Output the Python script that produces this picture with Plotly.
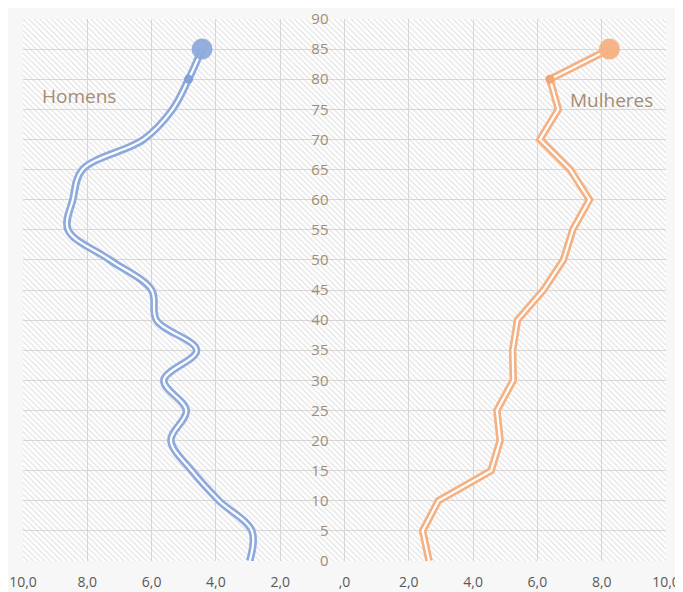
import plotly.graph_objects as go

ages = [0, 5, 10, 15, 20, 25, 30, 35, 40, 45, 50, 55, 60, 65, 70, 75, 80, 85]
homens = [2.95, 2.88, 3.9, 4.75, 5.4, 4.92, 5.62, 4.6, 5.85, 6.0, 7.3, 8.6, 8.45, 8.15, 6.25, 5.35, 4.85, 4.43]
mulheres = [2.63, 2.43, 2.92, 4.56, 4.84, 4.74, 5.25, 5.23, 5.38, 6.19, 6.81, 7.1, 7.62, 7.02, 6.08, 6.65, 6.39, 8.24]
x_tickvals = [-10, -8, -6, -4, -2, 0, 2, 4, 6, 8, 10]
x_ticktext = ["10,0", "8,0", "6,0", "4,0", "2,0", ",0", "2,0", "4,0", "6,0", "8,0", "10,0"]
y_tickvals = list(range(0, 95, 5))

XR = [-10, 10]
YR = [0, 90]
BLUE = "#8eaadc"
ORANGE = "#f4b183"
TXT = "#a38d74"

fig = go.Figure()

# hatched plot background
fig.add_trace(go.Scatter(
    x=[XR[0], XR[1], XR[1], XR[0], XR[0]], y=[YR[0], YR[0], YR[1], YR[1], YR[0]],
    mode="lines", line=dict(width=0), fill="toself", fillcolor="rgba(0,0,0,0)",
    fillpattern=dict(shape="\\", fgcolor="#c8c8c8", size=4, solidity=0.32, fillmode="overlay"),
    hoverinfo="skip", showlegend=False))

hx = [-v for v in homens]
# men: smoothed double line
fig.add_trace(go.Scatter(x=hx, y=ages, mode="lines",
                         line=dict(color=BLUE, width=7.5, shape="spline", smoothing=1.0),
                         showlegend=False, hoverinfo="skip"))
fig.add_trace(go.Scatter(x=hx, y=ages, mode="lines",
                         line=dict(color="white", width=2.2, shape="spline", smoothing=1.0),
                         showlegend=False, hoverinfo="skip"))
# women: straight double line
fig.add_trace(go.Scatter(x=mulheres, y=ages, mode="lines",
                         line=dict(color=ORANGE, width=7.5),
                         showlegend=False, hoverinfo="skip"))
fig.add_trace(go.Scatter(x=mulheres, y=ages, mode="lines",
                         line=dict(color="white", width=2.2),
                         showlegend=False, hoverinfo="skip"))

# markers
fig.add_trace(go.Scatter(x=[hx[-2]], y=[ages[-2]], mode="markers",
                         marker=dict(color="#7c9bd6", size=9, opacity=0.9),
                         showlegend=False, hoverinfo="skip"))
fig.add_trace(go.Scatter(x=[hx[-1]], y=[ages[-1]], mode="markers",
                         marker=dict(color=BLUE, size=21, opacity=0.95),
                         showlegend=False, hoverinfo="skip"))
fig.add_trace(go.Scatter(x=[mulheres[-2]], y=[ages[-2]], mode="markers",
                         marker=dict(color="#f0a36e", size=9, opacity=0.95),
                         showlegend=False, hoverinfo="skip"))
fig.add_trace(go.Scatter(x=[mulheres[-1]], y=[ages[-1]], mode="markers",
                         marker=dict(color=ORANGE, size=21, opacity=0.95),
                         showlegend=False, hoverinfo="skip"))

fig.add_annotation(x=-8.25, y=77.2, text="Homens", showarrow=False,
                   font=dict(family="Open Sans", size=19, color=TXT))
fig.add_annotation(x=8.3, y=76.5, text="Mulheres", showarrow=False,
                   font=dict(family="Open Sans", size=19, color=TXT))

# page body has an 8px default margin, so the figure is sized and offset to compensate
fig.update_layout(
    width=675, height=584, autosize=False,
    margin=dict(l=15, r=17, t=11, b=31),
    paper_bgcolor="#f7f7f7", plot_bgcolor="white",
    font=dict(family="Open Sans"),
    xaxis=dict(range=XR, tickvals=x_tickvals, ticktext=x_ticktext, automargin=False,
               showgrid=True, gridcolor="#d9d9d9", gridwidth=1, zeroline=False,
               showline=False, ticks="", ticklabelstandoff=11,
               tickfont=dict(size=14, color="#595959"), fixedrange=True),
    yaxis=dict(range=YR, tickvals=y_tickvals, anchor="free", position=0.5, automargin=False,
               showgrid=True, gridcolor="#d9d9d9", gridwidth=1, zeroline=False,
               showline=False, ticks="", ticklabelstandoff=16,
               tickfont=dict(size=15, color=TXT), fixedrange=True),
)

fig.write_html("out.html")
